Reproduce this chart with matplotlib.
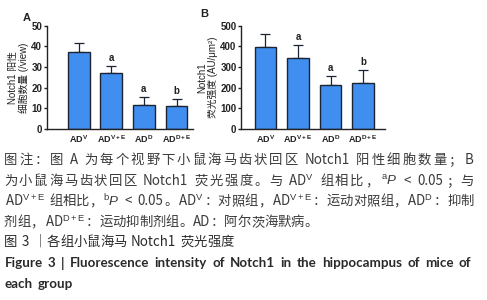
import matplotlib
matplotlib.use("Agg")
import matplotlib.pyplot as plt

plt.rcParams['font.family'] = ['Liberation Sans', 'Noto Sans CJK SC', 'DejaVu Sans']
plt.rcParams['mathtext.fontset'] = 'custom'
plt.rcParams['mathtext.rm'] = 'Liberation Sans'
plt.rcParams['mathtext.it'] = 'Liberation Sans:italic'
plt.rcParams['mathtext.bf'] = 'Liberation Sans:bold'

# group labels
groups = [r'AD$^{\mathbf{V}}$', r'AD$^{\mathbf{V+E}}$', r'AD$^{\mathbf{D}}$', r'AD$^{\mathbf{D+E}}$']

# panel A: Notch1 positive cells per view
cells_mean = [37.1, 27.3, 11.8, 11.3]
cells_err = [4.7, 3.2, 3.5, 3.1]
cells_sig = ['', 'a', 'a', 'b']

# panel B: Notch1 fluorescence intensity
fluo_mean = [398, 342, 211, 224]
fluo_err = [62, 63, 45, 61]
fluo_sig = ['', 'a', 'a', 'b']

# caption lines (first three are justified in the original)
caption = [
    '图注：图 A 为每个视野下小鼠海马齿状回区 Notch1 阳性细胞数量；B',
    r'为小鼠海马齿状回区 Notch1 荧光强度。与 AD$^{\mathrm{V}}$ 组相比，$^{\mathrm{a}}\mathit{P}$ < 0.05；与',
    r'AD$^{\mathrm{V+E}}$ 组相比，$^{\mathrm{b}}\mathit{P}$ < 0.05。AD$^{\mathrm{V}}$：对照组，AD$^{\mathrm{V+E}}$：运动对照组，AD$^{\mathrm{D}}$：抑制',
    r'剂组，AD$^{\mathrm{D+E}}$：运动抑制剂组。AD：阿尔茨海默病。',
]
title_cn = '图 3 ｜各组小鼠海马 Notch1 荧光强度'
title_en = ['Figure 3  |  Fluorescence intensity of Notch1 in the hippocampus of mice of',
            'each group']

bar_color = '#3f8ef0'
edge_color = '#1c2433'
W, H = 487, 300

fig = plt.figure(figsize=(4.87, 3.0), dpi=100)
renderer = fig.canvas.get_renderer()


def draw_panel(ax, means, errs, sig, ymax, step, xlim, ylabel):
    x = list(range(len(means)))
    ax.bar(x, means, width=0.67, color=bar_color, edgecolor=edge_color, linewidth=1.0, zorder=2)
    ax.errorbar(x, means, yerr=[[0] * len(errs), errs], fmt='none', ecolor=edge_color,
                elinewidth=0.9, capsize=3.8, capthick=0.9, zorder=1)
    for xi, m, e, s in zip(x, means, errs, sig):
        if s:
            ax.text(xi, m + e + ymax * 0.03, s, ha='center', va='bottom', fontsize=7,
                    fontweight='bold', color='#222222')
    ax.set_xlim(*xlim)
    ax.set_ylim(0, ymax)
    ax.set_yticks(range(0, ymax + 1, step))
    ax.set_xticks(x)
    ax.set_xticklabels(groups)
    for sp in ['top', 'right']:
        ax.spines[sp].set_visible(False)
    for sp in ['left', 'bottom']:
        ax.spines[sp].set_linewidth(1.0)
        ax.spines[sp].set_color('#222222')
    ax.tick_params(axis='y', length=2.5, width=1.0, pad=0.8, labelsize=7, colors='#222222')
    ax.tick_params(axis='x', length=0, pad=3, labelsize=6.5, colors='#222222')
    for lab in ax.get_yticklabels() + ax.get_xticklabels():
        lab.set_fontweight('bold')
    ax.set_ylabel(ylabel, fontsize=7, color='#222222', labelpad=1.5, linespacing=1.1)


axA = fig.add_axes([0.096, 0.57, 0.30, 0.344])
draw_panel(axA, cells_mean, cells_err, cells_sig, 50, 10, (-0.975, 3.5),
           'Notch1 阳性\n细胞数量 (/view)')
axB = fig.add_axes([0.495, 0.57, 0.296, 0.344])
draw_panel(axB, fluo_mean, fluo_err, fluo_sig, 500, 100, (-0.75, 3.68),
           'Notch1\n荧光强度 (AU/μm²)')

fig.text(23 / W, 1 - 18 / H, 'A', fontsize=8, fontweight='bold', color='#222222',
         ha='left', va='center')
fig.text(200 / W, 1 - 14 / H, 'B', fontsize=8, fontweight='bold', color='#222222',
         ha='left', va='center')


def tokenize(line):
    toks, spaced = [], []
    cur, pend = '', False

    def flush():
        nonlocal cur, pend
        if cur:
            toks.append(cur)
            spaced.append(pend)
            cur, pend = '', False

    for ch in line:
        if ch == ' ':
            flush()
            pend = True
        elif ord(ch) >= 0x2E80:
            flush()
            toks.append(ch)
            spaced.append(pend)
            pend = False
        else:
            cur += ch
    flush()
    return toks, spaced


def put_line(y, line, fontsize, family, color, left, right=None, weight='normal'):
    em = fontsize * 100 / 72
    toks, spaced = tokenize(line)
    objs, widths = [], []
    for t in toks:
        cjk = len(t) == 1 and ord(t) >= 0x2E80
        o = fig.text(0, 1 - y / H, t, fontsize=fontsize, family=family, color=color,
                     fontweight=weight, ha='center' if cjk else 'left', va='center')
        w = em if cjk else o.get_window_extent(renderer).width + 1.2
        objs.append((o, cjk))
        widths.append(w)
    gaps = [0.0] + [em * 0.28 if s else 0.0 for s in spaced[1:]]
    natural = sum(widths) + sum(gaps)
    extra = 0.0
    if right is not None and len(toks) > 1:
        extra = (right - left - natural) / (len(toks) - 1)
    x = left
    for i, ((o, cjk), w) in enumerate(zip(objs, widths)):
        if i > 0:
            x += gaps[i] + extra
        o.set_x((x + w / 2) / W if cjk else (x + 0.6) / W)
        x += w


cap_font = ['Noto Sans CJK SC', 'DejaVu Sans']
cap_color = '#3a3a3a'
cap_y = [160, 181, 201, 222]
for i, (line, yy) in enumerate(zip(caption, cap_y)):
    put_line(yy, line, 9.6, cap_font, cap_color, 4, 474 if i < 3 else None)

put_line(242, title_cn, 9.6, cap_font, '#2a2a2a', 4)
put_line(263, title_en[0], 9.6, ['Lato', 'DejaVu Sans'], '#2a2a2a', 4, 472, weight='bold')
put_line(284, title_en[1], 9.6, ['Lato', 'DejaVu Sans'], '#2a2a2a', 4, weight='bold')

fig.savefig('out.png', dpi=100)
